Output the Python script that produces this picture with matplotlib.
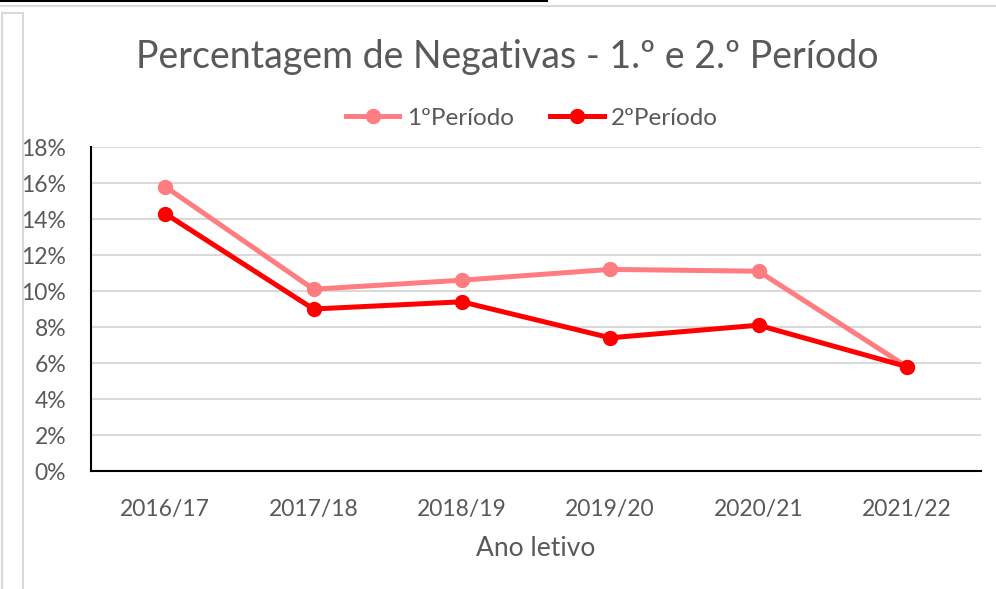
import matplotlib
matplotlib.use("Agg")
import matplotlib.pyplot as plt
from matplotlib.lines import Line2D
from matplotlib.ticker import FuncFormatter

# data
anos = ["2016/17", "2017/18", "2018/19", "2019/20", "2020/21", "2021/22"]
periodo1 = [15.8, 10.1, 10.6, 11.2, 11.1, 5.8]
periodo2 = [14.3, 9.0, 9.4, 7.4, 8.1, 5.8]
yticks = [0, 2, 4, 6, 8, 10, 12, 14, 16, 18]

plt.rcParams["font.family"] = ["Lato", "DejaVu Sans"]
GREY = "#595959"

W, H = 996, 589
fig = plt.figure(figsize=(W / 100, H / 100), dpi=100)
ax = fig.add_axes([91 / W, 1 - 471 / H, (981 - 91) / W, (471 - 147) / H])

x = list(range(len(anos)))
ax.plot(x, periodo1, color="#FF7C80", lw=3.6, marker="o", ms=10, label="1ºPeríodo", zorder=3)
ax.plot(x, periodo2, color="#FF0000", lw=3.6, marker="o", ms=10, label="2ºPeríodo", zorder=4)

ax.set_xlim(-0.5, len(anos) - 0.5)
ax.set_ylim(0, 18)
ax.set_yticks(yticks)
ax.yaxis.set_major_formatter(FuncFormatter(lambda v, p: f"{v:.0f}%"))
ax.set_xticks(x)
ax.set_xticklabels(anos)
ax.grid(axis="y", color="#D9D9D9", lw=1.5)
ax.set_axisbelow(True)
for s in ["top", "right"]:
    ax.spines[s].set_visible(False)
for s in ["left", "bottom"]:
    ax.spines[s].set_color("black")
    ax.spines[s].set_linewidth(1.5)
ax.tick_params(axis="y", length=0, pad=18, labelsize=16.5, labelcolor=GREY)
ax.tick_params(axis="x", length=0, pad=20, labelsize=16.5, labelcolor=GREY)
ax.set_xlabel("Ano letivo", fontsize=19, color=GREY, labelpad=12)

fig.text(507 / W, 1 - 57 / H, "Percentagem de Negativas - 1.º e 2.º Período",
         ha="center", va="center", fontsize=27, color=GREY)
ax.legend(loc="center", bbox_to_anchor=(532 / W, 1 - 118 / H), bbox_transform=fig.transFigure,
          ncol=2, frameon=False, fontsize=17.5, labelcolor=GREY, handlelength=2.2,
          columnspacing=1.5, handletextpad=0.3)

# frame artifacts from the screenshot
fig.add_artist(Line2D([0, 547 / W], [1 - 0.5 / H] * 2, color="black", lw=1.5))
fig.add_artist(Line2D([0, 1], [1 - 6 / H] * 2, color="#D9D9D9", lw=1.5))
fig.add_artist(Line2D([2 / W, 23 / W], [1 - 13 / H] * 2, color="#D9D9D9", lw=1.5))
fig.add_artist(Line2D([2 / W] * 2, [0, 1 - 13 / H], color="#D9D9D9", lw=1.5))
fig.add_artist(Line2D([23 / W] * 2, [0, 1 - 13 / H], color="#D9D9D9", lw=1.5))

fig.savefig("out.png", dpi=100)
